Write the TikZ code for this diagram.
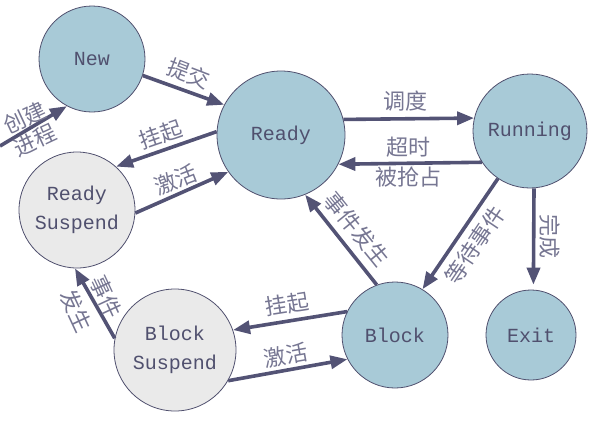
\documentclass[tikz,border=0pt]{standalone}
\usepackage{fontspec}
\usetikzlibrary{arrows.meta}
\newfontfamily\cjk{Noto Sans CJK SC}
\newfontfamily\latinmono{Liberation Mono}
\definecolor{stateblue}{HTML}{A8CAD7}
\definecolor{stategray}{HTML}{EAEAEA}
\definecolor{edgeline}{HTML}{50506E}
\definecolor{arrowink}{HTML}{535375}
\definecolor{labelink}{HTML}{767692}

\begin{document}
\begin{tikzpicture}[x=1pt,y=-1pt,
    state/.style={circle, draw=edgeline, line width=0.8pt, fill=stateblue,
        text=edgeline, inner sep=0pt, align=center,
        font=\latinmono\fontsize{20}{29}\selectfont},
    suspended/.style={state, fill=stategray},
    trans/.style={draw=arrowink, line width=3.6pt,
        -{Triangle[length=17pt,width=13pt]}},
    lbl/.style={text=labelink, inner sep=0pt, align=center,
        font=\cjk\fontsize{22}{30}\selectfont}]
\useasboundingbox (0,0) rectangle (608,424);

% States
\node[state, minimum size=106pt] (new) at (92,59) {New};
\node[state, minimum size=128pt] (ready) at (281,135) {Ready};
\node[state, minimum size=114pt] (running) at (530,131) {Running};
\node[suspended, minimum size=116pt] (rsusp) at (77,210) {Ready\\Suspend};
\node[state, minimum size=106pt] (block) at (395,335) {Block};
\node[state, minimum size=90pt] (exit) at (531,335) {Exit};
\node[suspended, minimum size=122pt] (bsusp) at (175,350) {Block\\Suspend};
\coordinate (origin) at (0,146);

% Transitions
\draw[trans] (origin) -- (new.242);
\draw[trans] (new.-18) -- (ready.152);
\draw[trans] (ready.177) -- (rsusp.48);
\draw[trans] (rsusp.-3) -- (ready.215);
\draw[trans] (ready.14) -- (running.167);
\draw[trans] (running.213) -- (ready.-27);
\draw[trans] (block.110) -- (ready.-68);
\draw[trans] (running.236) -- (block.59);
\draw[trans, shorten >=5pt] (running.-86) -- (exit.87);
\draw[trans] (block.154) -- (bsusp.19);
\draw[trans] (bsusp.-30) -- (block.207);
\draw[trans] (bsusp.169) -- (rsusp.268);

% Labels
\node[lbl, rotate=25, font=\cjk\fontsize{22}{25}\selectfont] (lcreate) at (30,129) {创建\\进程};
\node[lbl, rotate=-21] (lsubmit) at (189,74) {提交};
\node[lbl, rotate=19] (lsuspa) at (161,135) {挂起};
\node[lbl, rotate=21] (lactiva) at (176,180) {激活};
\node[lbl] (ldispatch) at (405,101) {调度};
\node[lbl] (ltimeout) at (408,162) {超时\\被抢占};
\node[lbl, rotate=-51] (leventa) at (357,229) {事件发生};
\node[lbl, rotate=56] (lwait) at (475,245) {等待事件};
\node[lbl, rotate=-90] (ldone) at (550,236) {完成};
\node[lbl, rotate=9] (lsuspb) at (287,304) {挂起};
\node[lbl, rotate=10] (lactivb) at (286,355) {激活};
\node[lbl, rotate=-65, font=\cjk\fontsize{22}{33}\selectfont] (leventb) at (91,304) {事件\\发生};
\end{tikzpicture}
\end{document}
